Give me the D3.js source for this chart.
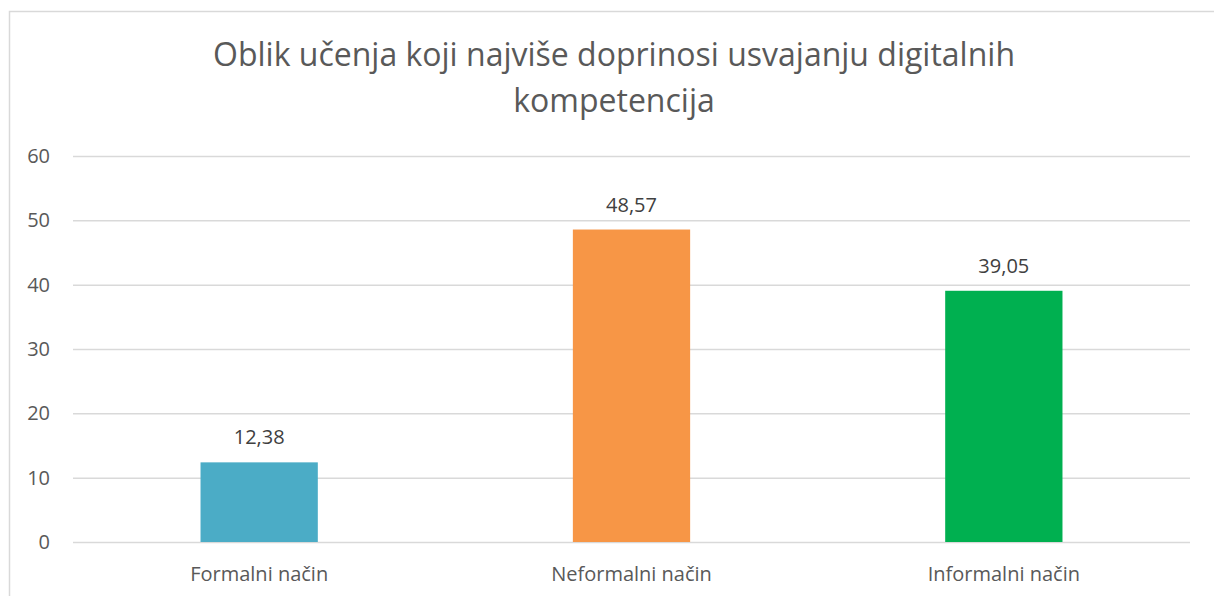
<!DOCTYPE html>
<html>
<head>
<meta charset="utf-8">
<script src="https://cdn.jsdelivr.net/npm/d3@7"></script>
<style>
  body { margin:0; background:#fff; }
  text { font-family: "Open Sans", "Noto Sans", sans-serif; }
</style>
</head>
<body>
<div id="chart"></div>
<script>
let categories = ["Formalni način", "Neformalni način", "Informalni način"],
    values = [12.38, 48.57, 39.05],
    barColors = ["#4BACC6", "#F79646", "#00B050"],
    yTicks = [0, 10, 20, 30, 40, 50, 60],
    titleLines = ["Oblik učenja koji najviše doprinosi usvajanju digitalnih", "kompetencija"];

let W = 1214, H = 596,
    margin = {top:156, right:24, bottom:54, left:73},
    width = W - margin.left - margin.right,
    height = H - margin.top - margin.bottom;

let svg = d3.select("#chart").append("svg")
  .attr("width", W)
  .attr("height", H);

// chart border
svg.append("rect")
  .attr("x", 9.5).attr("y", 11.5)
  .attr("width", W + 10).attr("height", H + 10)
  .attr("fill", "none")
  .attr("stroke", "#d9d9d9")
  .attr("stroke-width", 1.5);

// title
svg.append("text")
  .attr("text-anchor", "middle")
  .attr("fill", "#595959")
  .style("font-size", "32px")
  .selectAll("tspan").data(titleLines)
  .enter().append("tspan")
  .attr("x", 614)
  .attr("y", (d, i) => 66 + i * 46)
  .text(d => d);

let g = svg.append("g")
  .attr("transform", "translate(" + margin.left + "," + margin.top + ")");

let yScale = d3.scaleLinear().domain([0, 60]).range([height, 0]);
let xScale = d3.scaleBand().domain(categories).range([0, width]).paddingInner(0.685).paddingOuter(0.3425);

// gridlines
g.append("g")
  .call(d3.axisLeft(yScale).tickValues(yTicks).tickSize(-width).tickFormat(""))
  .call(a => a.select(".domain").remove())
  .selectAll("line").attr("stroke", "#d9d9d9").attr("stroke-width", 1.5);

// y labels
g.append("g")
  .selectAll("text").data(yTicks)
  .enter().append("text")
  .attr("x", -23)
  .attr("y", d => yScale(d))
  .attr("dy", "0.35em")
  .attr("text-anchor", "end")
  .attr("fill", "#595959")
  .style("font-size", "20px")
  .text(d => d);

// bars
g.selectAll("rect.bar").data(values)
  .enter().append("rect")
  .attr("class", "bar")
  .attr("x", (d, i) => xScale(categories[i]))
  .attr("width", xScale.bandwidth())
  .attr("y", d => yScale(d))
  .attr("height", d => height - yScale(d))
  .attr("fill", (d, i) => barColors[i]);

// data labels
g.selectAll("text.lbl").data(values)
  .enter().append("text")
  .attr("class", "lbl")
  .attr("x", (d, i) => xScale(categories[i]) + xScale.bandwidth() / 2)
  .attr("y", d => yScale(d) - 18)
  .attr("text-anchor", "middle")
  .attr("fill", "#404040")
  .style("font-size", "20px")
  .text(d => d.toFixed(2).replace(".", ","));

// x labels
let xAxis = g.append("g")
  .attr("transform", "translate(0," + height + ")")
  .call(d3.axisBottom(xScale).tickSize(0));
xAxis.select(".domain").remove();
xAxis.selectAll("text")
  .attr("y", 39)
  .attr("dy", 0)
  .attr("fill", "#595959")
  .style("font-size", "20px")
  .style("font-family", "'Open Sans', sans-serif");
</script>
</body>
</html>
